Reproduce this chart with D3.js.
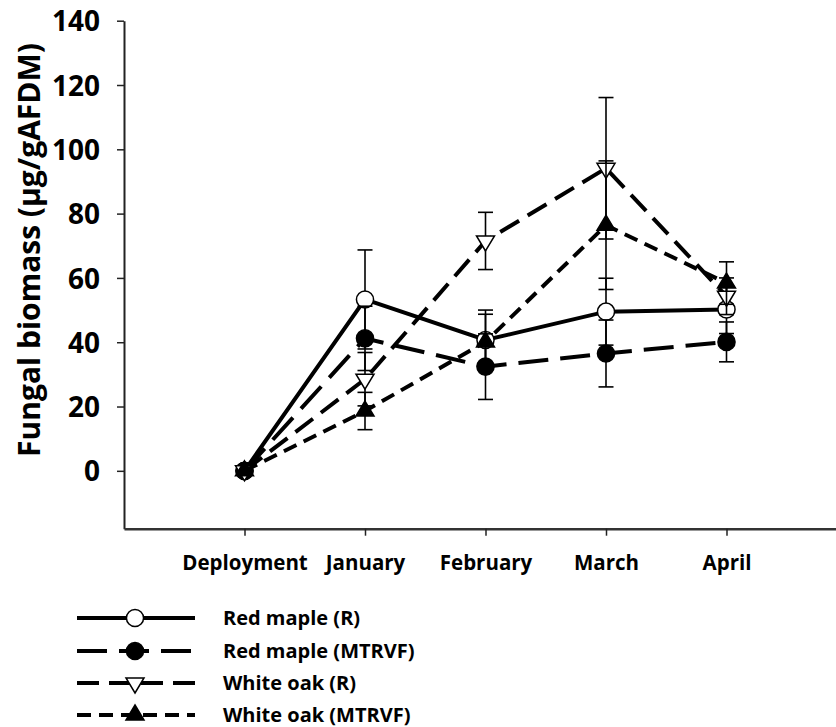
<!DOCTYPE html>
<html><head><meta charset="utf-8">
<script src="https://cdn.jsdelivr.net/npm/d3@7"></script>
<style>body{margin:0;background:#fff}svg{display:block}text{font-family:"Open Sans",sans-serif;font-weight:bold;fill:#000}</style>
</head><body><svg id="c" width="836" height="727"></svg>
<script>
const categories = ["Deployment","January","February","March","April"];
const seriesNames = ["Red maple (R)","Red maple (MTRVF)","White oak (R)","White oak (MTRVF)"];
const redMapleR = [0, 53.3, 40.7, 49.5, 50.2];
const redMapleRse = [0, 15.4, 9.3, 10.4, 7.5];
const redMapleM = [0, 41.2, 32.4, 36.5, 40.1];
const redMapleMse = [0, 10.0, 10.2, 10.4, 6.2];
const whiteOakR = [0, 28.5, 71.5, 94.1, 54.3];
const whiteOakRse = [0, 8.3, 8.9, 22.0, 5.7];
const whiteOakM = [0, 18.6, 40.1, 76.4, 58.4];
const whiteOakMse = [0, 5.8, 8.6, 20.0, 6.6];
const yTicks = [0, 20, 40, 60, 80, 100, 120, 140];
const yLabel = "Fungal biomass (µg/gAFDM)";

const series = [
  {name: seriesNames[0], v: redMapleR, se: redMapleRse, sym: "circle", fill: "#fff", dash: null},
  {name: seriesNames[1], v: redMapleM, se: redMapleMse, sym: "circle", fill: "#000", dash: "30,12"},
  {name: seriesNames[2], v: whiteOakR, se: whiteOakRse, sym: "down", fill: "#fff", dash: "22,10"},
  {name: seriesNames[3], v: whiteOakM, se: whiteOakMse, sym: "up", fill: "#000", dash: "14,8"}
];

const FONT = '"Open Sans",sans-serif';
const svg = d3.select("#c");
const x = d3.scaleLinear().domain([0, 6]).range([124, 847]);
const y = d3.scaleLinear().domain([-18, 140]).range([528.7, 20.7]);

// axes
const yAx = svg.append("g").attr("transform", "translate(124,0)")
  .call(d3.axisLeft(y).tickValues(yTicks).tickSize(7).tickPadding(17).tickSizeOuter(0));
yAx.select(".domain").attr("stroke", "#222").attr("stroke-width", 2);
yAx.selectAll(".tick line").attr("stroke", "#222").attr("stroke-width", 1.5);
yAx.selectAll(".tick text").attr("font-size", 28).attr("font-family", FONT).attr("dy", "0.36em");

const xAx = svg.append("g").attr("transform", "translate(0,528.7)")
  .call(d3.axisBottom(x).tickValues([1,2,3,4,5]).tickFormat(d => categories[d-1]).tickSize(7).tickPadding(20).tickSizeOuter(0));
xAx.select(".domain").attr("stroke", "#333").attr("stroke-width", 2.5);
xAx.selectAll(".tick line").attr("stroke", "#222").attr("stroke-width", 1.5);
xAx.selectAll(".tick text").attr("font-size", 20.5).attr("font-family", FONT);

svg.append("text").attr("transform", "translate(40,250) rotate(-90)")
  .attr("text-anchor", "middle").attr("font-size", 30).text(yLabel);

function symPath(sym) {
  if (sym === "circle") return d3.symbol(d3.symbolCircle, 230)();
  if (sym === "up") return "M0,-10L9,5L-9,5Z";
  return "M0,10L9,-5L-9,-5Z";
}

const line = d3.line().x((d, i) => x(i + 1)).y(d => y(d));

series.forEach(s => {
  const g = svg.append("g");
  g.append("path").datum(s.v).attr("d", line).attr("fill", "none")
    .attr("stroke", "#000").attr("stroke-width", 4)
    .attr("stroke-dasharray", s.dash);
  s.v.forEach((v, i) => {
    const e = s.se[i];
    if (e > 0) {
      const cx = x(i + 1);
      g.append("line").attr("x1", cx).attr("x2", cx).attr("y1", y(v - e)).attr("y2", y(v + e))
        .attr("stroke", "#000").attr("stroke-width", 1.6);
      [v - e, v + e].forEach(t => g.append("line").attr("x1", cx - 7.5).attr("x2", cx + 7.5)
        .attr("y1", y(t)).attr("y2", y(t)).attr("stroke", "#000").attr("stroke-width", 1.6));
    }
  });
  s.v.forEach((v, i) => {
    g.append("path").attr("d", symPath(s.sym))
      .attr("transform", `translate(${x(i + 1)},${y(v)})`)
      .attr("fill", s.fill).attr("stroke", "#000").attr("stroke-width", 1.5);
  });
});

// legend
const legY = [618, 651, 683, 715];
series.forEach((s, i) => {
  const g = svg.append("g").attr("transform", `translate(0,${legY[i]})`);
  g.append("line").attr("x1", 77).attr("x2", 195).attr("y1", 0).attr("y2", 0)
    .attr("stroke", "#000").attr("stroke-width", 4).attr("stroke-dasharray", s.dash);
  g.append("path").attr("d", symPath(s.sym)).attr("transform", "translate(135,0)")
    .attr("fill", s.fill).attr("stroke", "#000").attr("stroke-width", 1.5);
  g.append("text").attr("x", 223).attr("y", 0).attr("dy", "0.35em").attr("font-size", 20).text(s.name);
});
</script></body></html>
